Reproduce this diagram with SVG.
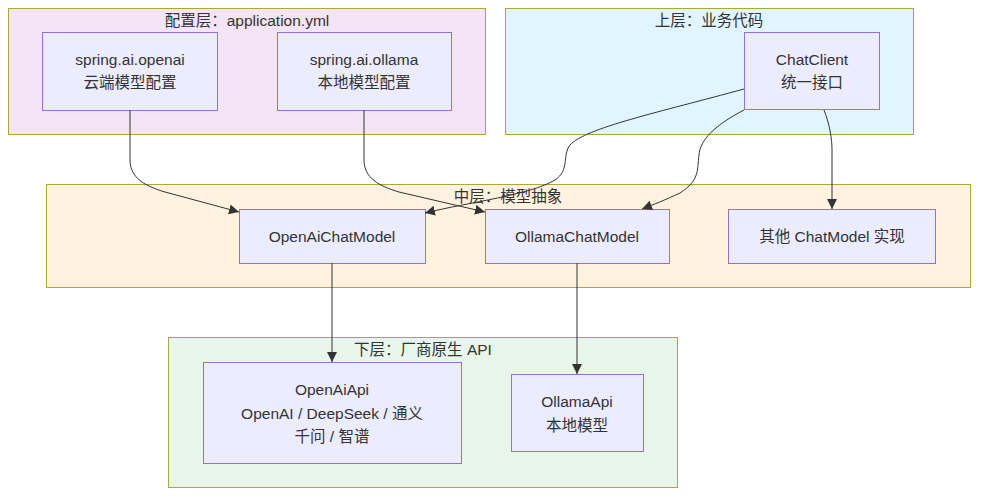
<svg xmlns="http://www.w3.org/2000/svg" width="986" height="500" viewBox="0 0 986 500">
<style>
.cl{stroke:#aaaa33;stroke-width:1}
.nd{fill:#ECECFF;stroke:#9370DB;stroke-width:1}
text{font-family:"Liberation Sans","Noto Sans CJK SC",sans-serif;font-size:15.5px;fill:#333;text-anchor:middle;dominant-baseline:central}
.e{fill:none;stroke:#333;stroke-width:1}
</style>
<defs>
<marker id="ah" viewBox="0 0 10 10" refX="10" refY="5" markerUnits="userSpaceOnUse" markerWidth="10" markerHeight="10" orient="auto">
<path d="M0,0 L10,5 L0,10 z" fill="#333"/>
</marker>
</defs>
<g id="cluster-config">
<rect class="cl" x="8.5" y="8.5" width="477" height="126" fill="#F3E5F5"/>
<text x="247" y="20">配置层：application.yml</text>
</g>
<g id="cluster-top">
<rect class="cl" x="505.5" y="8.5" width="408" height="126" fill="#E1F5FE"/>
<text x="709" y="20">上层：业务代码</text>
</g>
<g id="cluster-mid">
<rect class="cl" x="46.5" y="184.5" width="924" height="103" fill="#FFF3E0"/>
<text x="508" y="196">中层：模型抽象</text>
</g>
<g id="cluster-low">
<rect class="cl" x="168.5" y="337.5" width="509" height="150" fill="#E8F5E9"/>
<text x="423" y="349">下层：厂商原生 API</text>
</g>
<g id="node-openai-cfg">
<rect class="nd" x="42.5" y="32.5" width="175" height="78"/>
<text x="130" y="59">spring.ai.openai</text>
<text x="130" y="82">云端模型配置</text>
</g>
<g id="node-ollama-cfg">
<rect class="nd" x="277.5" y="32.5" width="174" height="78"/>
<text x="364" y="59">spring.ai.ollama</text>
<text x="364" y="82">本地模型配置</text>
</g>
<g id="node-chatclient">
<rect class="nd" x="744.5" y="32.5" width="135" height="77"/>
<text x="812" y="59">ChatClient</text>
<text x="812" y="82">统一接口</text>
</g>
<g id="node-openai-model">
<rect class="nd" x="239.5" y="209.5" width="186" height="54"/>
<text x="332" y="236">OpenAiChatModel</text>
</g>
<g id="node-ollama-model">
<rect class="nd" x="485.5" y="209.5" width="184" height="54"/>
<text x="577" y="236">OllamaChatModel</text>
</g>
<g id="node-other-model">
<rect class="nd" x="728.5" y="209.5" width="207" height="54"/>
<text x="832" y="236">其他 ChatModel 实现</text>
</g>
<g id="node-openai-api">
<rect class="nd" x="203.5" y="362.5" width="258" height="101"/>
<text x="332" y="389">OpenAiApi</text>
<text x="332" y="413">OpenAI / DeepSeek / 通义</text>
<text x="332" y="436">千问 / 智谱</text>
</g>
<g id="node-ollama-api">
<rect class="nd" x="511.5" y="374.5" width="132" height="77"/>
<text x="577" y="401">OllamaApi</text>
<text x="577" y="425">本地模型</text>
</g>
<g id="edges">
<path class="e" marker-end="url(#ah)" d="M130,110 L130,160 C130,178 145,186 165,192 L239,212"/>
<path class="e" marker-end="url(#ah)" d="M364,110 L364,160 C364,178 379,186 399,192 L485,212"/>
<path class="e" marker-end="url(#ah)" d="M744,89 C660,112 585,128 570,145 C562,155 570,170 555,180 C530,195 470,202 425,213"/>
<path class="e" marker-end="url(#ah)" d="M744,110 C715,125 700,140 699,155 C697,170 700,180 680,193 C665,200 655,204 642,209"/>
<path class="e" marker-end="url(#ah)" d="M824,110 C830,125 832,140 832,150 L832,209"/>
<path class="e" marker-end="url(#ah)" d="M332,263 L332,362"/>
<path class="e" marker-end="url(#ah)" d="M577,263 L577,374"/>
</g>
</svg>
